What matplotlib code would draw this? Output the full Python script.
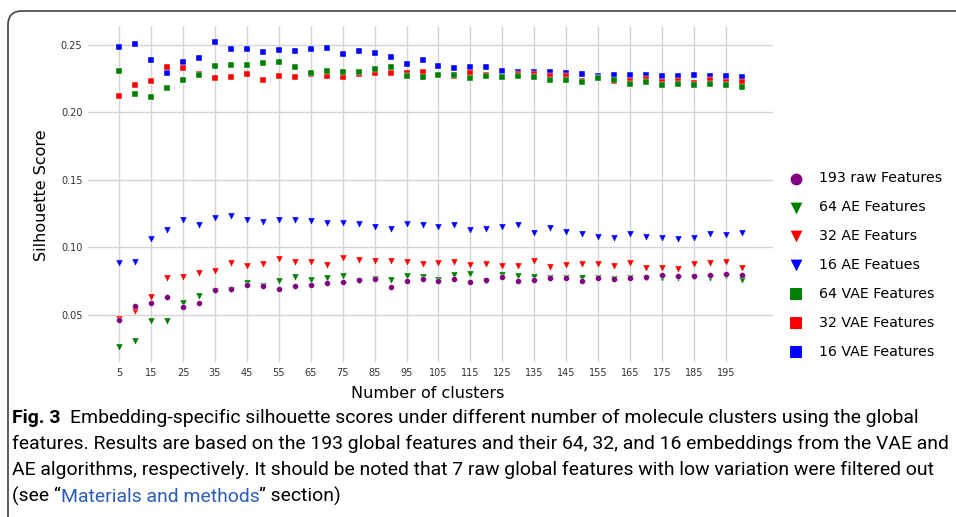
import matplotlib
matplotlib.use('Agg')
import matplotlib.pyplot as plt
import numpy as np
from matplotlib.patches import FancyBboxPatch

plt.rcParams['font.family'] = 'DejaVu Sans'

## Silhouette scores per number of clusters
clusters = np.arange(5, 205, 5)

raw_193 = [0.0463, 0.0569, 0.0592, 0.0637, 0.0557, 0.0587, 0.0687, 0.0696, 0.0721, 0.0713,
           0.0694, 0.0716, 0.0721, 0.0736, 0.0741, 0.0756, 0.0769, 0.0709, 0.0754, 0.0766,
           0.0752, 0.0766, 0.0743, 0.0756, 0.0784, 0.0749, 0.0756, 0.0773, 0.0773, 0.0751,
           0.0773, 0.0766, 0.0776, 0.0778, 0.0793, 0.0791, 0.0788, 0.0798, 0.0801, 0.0793]
ae_64 = [0.0266, 0.0308, 0.0457, 0.0457, 0.0587, 0.0644, 0.0676, 0.0689, 0.0734, 0.0713,
         0.0749, 0.0784, 0.0758, 0.0771, 0.0791, 0.0752, 0.0769, 0.0763, 0.0786, 0.0784,
         0.0758, 0.0793, 0.0806, 0.0750, 0.0798, 0.0788, 0.0784, 0.0773, 0.0773, 0.0776,
         0.0776, 0.0766, 0.0773, 0.0776, 0.0776, 0.0776, 0.0781, 0.0771, 0.0788, 0.0763]
ae_32 = [0.0472, 0.0527, 0.0637, 0.0773, 0.0778, 0.0808, 0.0828, 0.0888, 0.0863, 0.0881,
         0.0913, 0.0893, 0.0896, 0.0873, 0.0925, 0.0905, 0.0898, 0.0900, 0.0896, 0.0881,
         0.0888, 0.0890, 0.0873, 0.0878, 0.0860, 0.0860, 0.0900, 0.0853, 0.0873, 0.0878,
         0.0875, 0.0866, 0.0883, 0.0851, 0.0851, 0.0841, 0.0875, 0.0885, 0.0893, 0.0848]
ae_16 = [0.0883, 0.0890, 0.1060, 0.1131, 0.1201, 0.1164, 0.1221, 0.1236, 0.1204, 0.1189,
         0.1204, 0.1206, 0.1194, 0.1179, 0.1179, 0.1174, 0.1149, 0.1137, 0.1176, 0.1164,
         0.1149, 0.1164, 0.1131, 0.1139, 0.1149, 0.1166, 0.1104, 0.1146, 0.1114, 0.1099,
         0.1077, 0.1069, 0.1099, 0.1075, 0.1069, 0.1060, 0.1072, 0.1097, 0.1094, 0.1107]
vae_64 = [0.2304, 0.2134, 0.2115, 0.2179, 0.2239, 0.2274, 0.2339, 0.2349, 0.2346, 0.2366,
          0.2371, 0.2334, 0.2291, 0.2307, 0.2295, 0.2296, 0.2322, 0.2335, 0.2269, 0.2264,
          0.2275, 0.2275, 0.2254, 0.2268, 0.2261, 0.2265, 0.2261, 0.2239, 0.2235, 0.2223,
          0.2251, 0.2237, 0.2206, 0.2223, 0.2202, 0.2209, 0.2202, 0.2207, 0.2199, 0.2184]
vae_32 = [0.2119, 0.2201, 0.2229, 0.2336, 0.2324, 0.2284, 0.2254, 0.2259, 0.2284, 0.2239,
          0.2269, 0.2259, 0.2281, 0.2266, 0.2261, 0.2286, 0.2291, 0.2291, 0.2291, 0.2296,
          0.2275, 0.2270, 0.2291, 0.2276, 0.2262, 0.2284, 0.2284, 0.2266, 0.2266, 0.2234,
          0.2255, 0.2229, 0.2232, 0.2249, 0.2224, 0.2232, 0.2219, 0.2237, 0.2227, 0.2222]
vae_16 = [0.2480, 0.2505, 0.2390, 0.2290, 0.2370, 0.2400, 0.2520, 0.2470, 0.2466, 0.2446,
          0.2460, 0.2450, 0.2470, 0.2473, 0.2430, 0.2455, 0.2436, 0.2406, 0.2356, 0.2385,
          0.2339, 0.2330, 0.2334, 0.2336, 0.2302, 0.2300, 0.2300, 0.2300, 0.2292, 0.2283,
          0.2271, 0.2279, 0.2274, 0.2276, 0.2268, 0.2271, 0.2274, 0.2271, 0.2269, 0.2260]

labels = ['193 raw Features', '64 AE Features', '32 AE Featurs', '16 AE Featues',
          '64 VAE Features', '32 VAE Features', '16 VAE Features']
series = [raw_193, ae_64, ae_32, ae_16, vae_64, vae_32, vae_16]
markers = ['o', 'v', 'v', 'v', 's', 's', 's']
sizes = [18, 26, 26, 26, 17, 17, 17]
colors = ['purple', 'green', 'red', 'blue', 'green', 'red', 'blue']
zorders = [6, 5, 4, 3, 5, 4, 3]

caption_1 = 'Embedding-specific silhouette scores under different number of molecule clusters using the global'
caption_2 = 'features. Results are based on the 193 global features and their 64, 32, and 16 embeddings from the VAE and'
caption_3 = 'AE algorithms, respectively. It should be noted that 7 raw global features with low variation were filtered out'

W, H = 956, 517
fig = plt.figure(figsize=(W / 100, H / 100), dpi=100)

# background layer in pixel units for the frame, axis titles and caption
bg = fig.add_axes([0, 0, 1, 1])
bg.set_xlim(0, W)
bg.set_ylim(H, 0)
bg.axis('off')
bg.add_patch(FancyBboxPatch((8, 11), 1100, 700, boxstyle='round,pad=0,rounding_size=14',
                            fc='none', ec='#505050', lw=1.3))

ax = fig.add_axes([88 / W, 1 - 362 / H, (773 - 88) / W, (362 - 26) / H])
for vals, m, sz, c, z, lab in zip(series, markers, sizes, colors, zorders, labels):
    ax.scatter(clusters, vals, s=sz, marker=m, c=c, edgecolors='white',
               linewidths=0.3, zorder=z, label=lab)

ax.set_xlim(-4.75, 209.75)
ax.set_ylim(0.0153, 0.2638)
ax.set_xticks(np.arange(5, 200, 10))
ax.set_yticks([0.05, 0.10, 0.15, 0.20, 0.25])
ax.set_yticklabels(['%.2f' % v for v in [0.05, 0.10, 0.15, 0.20, 0.25]])
ax.grid(True, color='#d4d4d4', lw=1.0)
ax.set_axisbelow(True)
ax.set_facecolor('none')
for sp in ax.spines.values():
    sp.set_visible(False)
ax.tick_params(length=0, labelsize=7, pad=4, colors='#333333')

bg.text(42, 195, 'Silhouette Score', rotation=90, ha='center', va='center', fontsize=11.5)
bg.text(428, 393, 'Number of clusters', ha='center', va='center', fontsize=11.5)

leg = ax.legend(loc='center left', bbox_to_anchor=(789 / W, 1 - 265 / H),
                bbox_transform=fig.transFigure, frameon=False, fontsize=10.2,
                handlelength=1.0, handletextpad=1.1,
                labelspacing=1.05, borderpad=0, borderaxespad=0)
for h in leg.legend_handles:
    h.set_sizes([72])
    h.set_linewidths(0)

# caption, sized so the longest line fills the frame
renderer = fig.canvas.get_renderer()
cap_font = ['Liberation Sans Narrow', 'Roboto']
line_y = [423, 449, 475, 502]
probe = bg.text(12, line_y[2], caption_3, fontsize=13, family=cap_font, va='baseline')
cap_size = 13 * 924 / probe.get_window_extent(renderer).width
probe.set_fontsize(cap_size)

bold = bg.text(12, line_y[0], 'Fig. 3', fontsize=cap_size, family=cap_font,
               weight='bold', va='baseline')
x1 = bold.get_window_extent(renderer).x1 + 10
bg.text(x1, line_y[0], caption_1, fontsize=cap_size, family=cap_font, va='baseline')
bg.text(12, line_y[1], caption_2, fontsize=cap_size, family=cap_font, va='baseline')

t = bg.text(12, line_y[3], '(see \u201c', fontsize=cap_size, family=cap_font, va='baseline')
x = t.get_window_extent(renderer).x1
t = bg.text(x, line_y[3], 'Materials and methods', fontsize=cap_size, family=cap_font,
            va='baseline', color='#2b5cb8')
x = t.get_window_extent(renderer).x1
bg.text(x, line_y[3], '\u201d section)', fontsize=cap_size, family=cap_font, va='baseline')

fig.savefig('out.png', dpi=100)
